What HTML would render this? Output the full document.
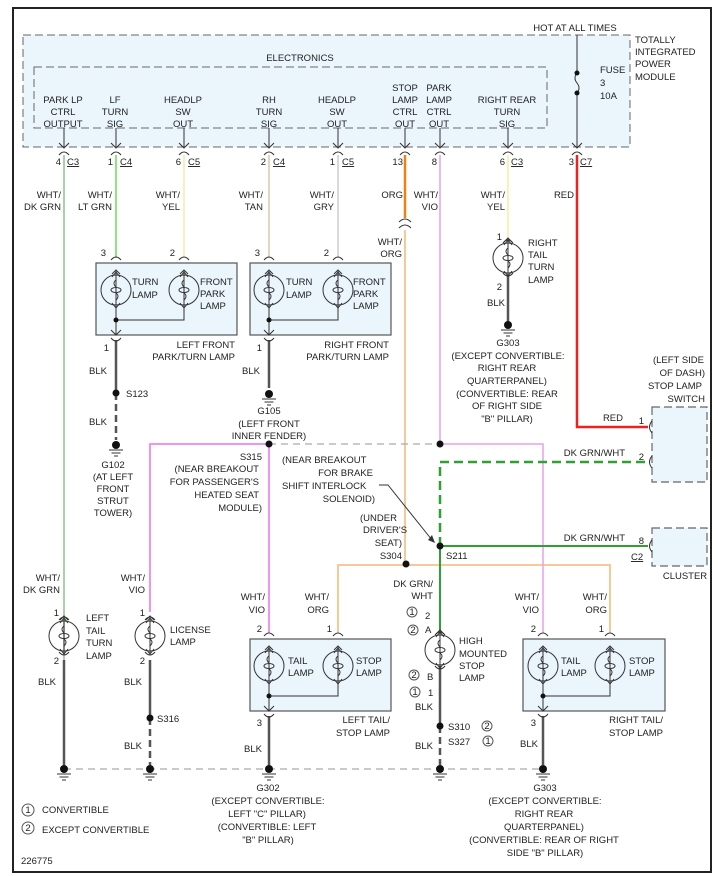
<!DOCTYPE html>
<html><head><meta charset="utf-8"><style>
html,body{margin:0;padding:0;background:#fff}
svg{display:block}
text{font-family:"Liberation Sans",sans-serif;font-size:9.5px;fill:#222}
.r{text-anchor:end}.m{text-anchor:middle}
</style></head><body>
<svg width="718" height="876" viewBox="0 0 718 876" xmlns="http://www.w3.org/2000/svg">
<defs>
<g id="bulb" fill="none" stroke="#333" stroke-width="1">
<circle r="15" fill="none"/>
<path d="M0,-19V19M-4,-13L0,-18L4,-13M-4,13L0,18L4,13M-4,-16L0,-20L4,-16"/>
<ellipse rx="5" ry="2.5"/>
<path d="M0,-10q-4,3 0,7M0,3q4,3 0,7"/>
</g>
<g id="gnd" stroke="#333" stroke-width="1"><circle r="4" fill="#111" stroke="none"/><path d="M-7,5H7M-4.5,8H4.5M-2,11H2"/></g>
<path id="cap" d="M-5,3Q0,-3 5,3" fill="none" stroke="#333" stroke-width="1"/>
<path id="dn" d="M-5,-4L0,1L5,-4" fill="none" stroke="#333" stroke-width="1"/>
</defs>
<rect x="13" y="8" width="698" height="864" fill="#fff" stroke="#222" stroke-width="2"/>
<!-- TIPM -->
<rect x="23" y="35" width="607" height="112" fill="#eaf5fc" stroke="#666" stroke-dasharray="8,4"/>
<rect x="34" y="67" width="513" height="61" fill="#eaf5fc" stroke="#666" stroke-dasharray="8,4"/>
<text x="575" y="31" class="m">HOT AT ALL TIMES</text>
<text x="635" y="43">TOTALLY</text><text x="635" y="55">INTEGRATED</text><text x="635" y="67">POWER</text><text x="635" y="80">MODULE</text>
<text x="300" y="61" class="m">ELECTRONICS</text>
<g class="m">
<text x="63" y="103" class="m">PARK LP</text><text x="63" y="115" class="m">CTRL</text><text x="63" y="127" class="m">OUTPUT</text>
<text x="115" y="103" class="m">LF</text><text x="115" y="115" class="m">TURN</text><text x="115" y="127" class="m">SIG</text>
<text x="183" y="103" class="m">HEADLP</text><text x="183" y="115" class="m">SW</text><text x="183" y="127" class="m">OUT</text>
<text x="269" y="103" class="m">RH</text><text x="269" y="115" class="m">TURN</text><text x="269" y="127" class="m">SIG</text>
<text x="337" y="103" class="m">HEADLP</text><text x="337" y="115" class="m">SW</text><text x="337" y="127" class="m">OUT</text>
<text x="405" y="91" class="m">STOP</text><text x="405" y="103" class="m">LAMP</text><text x="405" y="115" class="m">CTRL</text><text x="405" y="127" class="m">OUT</text>
<text x="439" y="91" class="m">PARK</text><text x="439" y="103" class="m">LAMP</text><text x="439" y="115" class="m">CTRL</text><text x="439" y="127" class="m">OUT</text>
<text x="507" y="103" class="m">RIGHT REAR</text><text x="507" y="115" class="m">TURN</text><text x="507" y="127" class="m">SIG</text>
</g>
<text x="600" y="73">FUSE</text><text x="600" y="86">3</text><text x="600" y="99">10A</text>
<g stroke="#333" stroke-width="1">
<path d="M64,128V147M116,128V147M184,128V147M269,128V147M338,128V147M405,128V147M440,128V147M508,128V147"/>
<path d="M577,35V73M577,93V147M577,73q-4,5 0,10q4,5 0,10" fill="none"/>
</g>
<circle cx="577" cy="73" r="2.5" fill="#111"/><circle cx="577" cy="93" r="2.5" fill="#111"/>
<use href="#dn" x="64" y="147"/><use href="#dn" x="116" y="147"/><use href="#dn" x="184" y="147"/><use href="#dn" x="269" y="147"/><use href="#dn" x="338" y="147"/><use href="#dn" x="405" y="147"/><use href="#dn" x="440" y="147"/><use href="#dn" x="508" y="147"/><use href="#dn" x="577" y="147"/>
<use href="#cap" x="64" y="152"/><use href="#cap" x="116" y="152"/><use href="#cap" x="184" y="152"/><use href="#cap" x="269" y="152"/><use href="#cap" x="338" y="152"/><use href="#cap" x="405" y="152"/><use href="#cap" x="440" y="152"/><use href="#cap" x="508" y="152"/><use href="#cap" x="577" y="152"/>
<!-- connector numbers -->
<text x="61" y="165" class="r">4</text><text x="67" y="165" text-decoration="underline">C3</text>
<text x="113" y="165" class="r">1</text><text x="120" y="165" text-decoration="underline">C4</text>
<text x="181" y="165" class="r">6</text><text x="188" y="165" text-decoration="underline">C5</text>
<text x="266" y="165" class="r">2</text><text x="273" y="165" text-decoration="underline">C4</text>
<text x="335" y="165" class="r">1</text><text x="342" y="165" text-decoration="underline">C5</text>
<text x="403" y="165" class="r">13</text><text x="437" y="165" class="r">8</text>
<text x="505" y="165" class="r">6</text><text x="511" y="165" text-decoration="underline">C3</text>
<text x="574" y="165" class="r">3</text><text x="580" y="165" text-decoration="underline">C7</text>
<!-- wire labels -->
<text x="61" y="198" class="r">WHT/</text><text x="61" y="210" class="r">DK GRN</text>
<text x="112" y="198" class="r">WHT/</text><text x="112" y="210" class="r">LT GRN</text>
<text x="180" y="198" class="r">WHT/</text><text x="180" y="210" class="r">YEL</text>
<text x="263" y="198" class="r">WHT/</text><text x="263" y="210" class="r">TAN</text>
<text x="334" y="198" class="r">WHT/</text><text x="334" y="210" class="r">GRY</text>
<text x="403" y="198" class="r">ORG</text>
<text x="438" y="198" class="r">WHT/</text><text x="438" y="210" class="r">VIO</text>
<text x="505" y="198" class="r">WHT/</text><text x="505" y="210" class="r">YEL</text>
<text x="574" y="198" class="r">RED</text>
<text x="402" y="245" class="r">WHT/</text><text x="402" y="257" class="r">ORG</text>
<!-- wires -->
<g fill="none" stroke-width="1.5">
<path d="M64,155V769" stroke="#8bc48b"/>
<path d="M116,155V258" stroke="#66dd55"/>
<path d="M184,155V258" stroke="#f0eab0"/>
<path d="M269,155V258" stroke="#d8c8a8"/>
<path d="M338,155V258" stroke="#cccccc"/>
<path d="M405,155V218" stroke="#f08010" stroke-width="2.5"/>
<path d="M405,230V565M338,633V565H610V633" stroke="#f8c898" stroke-width="2"/>
<path d="M440,155V444M150,612V444H269M269,633V444M440,444H543V633" stroke="#e8a0e8" stroke-width="1.5"/>
<path d="M150,612V444H269V633" stroke="#f080f0"/>
<path d="M508,155V240" stroke="#f0f0a0"/>
<path d="M577,155V427H648" stroke="#ee2020" stroke-width="2.5"/>
<path d="M440,546V633M440,546H648" stroke="#30a030" stroke-width="2"/>
<path d="M440,546V462H648" stroke="#30a030" stroke-width="2.5" stroke-dasharray="9,5"/>
<path d="M269,444H440" stroke="#aaa" stroke-width="1.2" stroke-dasharray="7,5"/>
<path d="M64,769H543" stroke="#aaa" stroke-width="1.2" stroke-dasharray="7,5"/>
</g>
<path d="M399,222q6,-6 12,0M399,228q6,-6 12,0" fill="none" stroke="#333"/>
<!-- BLK wires -->
<g stroke="#555" stroke-width="2.5" fill="none">
<path d="M116,340V393M269,340V388M508,275V322M64,660V765M150,660V718M269,716V765M440,666V726M543,716V765"/>
<path d="M116,393V440M150,718V765M440,726V765" stroke-dasharray="7,4"/>
</g>
<!-- front lamp boxes -->
<rect x="96" y="263" width="141" height="72" fill="#eaf5fc" stroke="#555" stroke-width="1.2"/>
<rect x="250" y="263" width="141" height="72" fill="#eaf5fc" stroke="#555" stroke-width="1.2"/>
<use href="#bulb" x="116" y="290"/><use href="#bulb" x="184" y="290"/><use href="#bulb" x="269" y="290"/><use href="#bulb" x="338" y="290"/>
<g stroke="#333" fill="none"><path d="M116,309V335M116,320H184V309M269,309V335M269,320H338V309"/></g>
<circle cx="116" cy="320" r="2.5" fill="#111"/><circle cx="269" cy="320" r="2.5" fill="#111"/>
<use href="#dn" x="116" y="334"/><use href="#dn" x="269" y="334"/>
<use href="#cap" x="116" y="257"/><use href="#cap" x="184" y="257"/><use href="#cap" x="269" y="257"/><use href="#cap" x="338" y="257"/>
<use href="#cap" x="116" y="341" transform="rotate(180 116 341)"/><use href="#cap" x="269" y="341" transform="rotate(180 269 341)"/>
<text x="106" y="256" class="r">3</text><text x="175" y="256" class="r">2</text><text x="260" y="256" class="r">3</text><text x="329" y="256" class="r">2</text>
<text x="132" y="285">TURN</text><text x="132" y="298">LAMP</text>
<text x="200" y="285">FRONT</text><text x="200" y="297">PARK</text><text x="200" y="309">LAMP</text>
<text x="286" y="285">TURN</text><text x="286" y="298">LAMP</text>
<text x="353" y="285">FRONT</text><text x="353" y="297">PARK</text><text x="353" y="309">LAMP</text>
<text x="235" y="348" class="r">LEFT FRONT</text><text x="235" y="360" class="r">PARK/TURN LAMP</text>
<text x="389" y="348" class="r">RIGHT FRONT</text><text x="389" y="360" class="r">PARK/TURN LAMP</text>
<text x="109" y="351" class="r">1</text><text x="262" y="351" class="r">1</text>
<text x="107" y="374" class="r">BLK</text><text x="260" y="374" class="r">BLK</text>
<circle cx="116" cy="393" r="3.5" fill="#111"/><text x="126" y="397">S123</text>
<text x="107" y="425" class="r">BLK</text>
<use href="#gnd" x="116" y="445"/><use href="#gnd" x="269" y="394"/>
<text x="113" y="468" class="m">G102</text><text x="113" y="480" class="m">(AT LEFT</text><text x="113" y="492" class="m">FRONT</text><text x="113" y="504" class="m">STRUT</text><text x="113" y="516" class="m">TOWER)</text>
<text x="269" y="414" class="m">G105</text><text x="269" y="427" class="m">(LEFT FRONT</text><text x="269" y="439" class="m">INNER FENDER)</text>
<!-- right tail turn -->
<use href="#bulb" x="508" y="258"/><use href="#cap" x="508" y="240"/><use href="#cap" x="508" y="276" transform="rotate(180 508 276)"/>
<text x="502" y="240" class="r">1</text><text x="502" y="290" class="r">2</text>
<text x="528" y="246">RIGHT</text><text x="528" y="258">TAIL</text><text x="528" y="270">TURN</text><text x="528" y="283">LAMP</text>
<text x="505" y="306" class="r">BLK</text><use href="#gnd" x="508" y="325"/>
<text x="508" y="346" class="m">G303</text><text x="508" y="359" class="m">(EXCEPT CONVERTIBLE:</text><text x="507" y="371" class="m">RIGHT REAR</text><text x="507" y="384" class="m">QUARTERPANEL)</text><text x="507" y="397" class="m">(CONVERTIBLE: REAR</text><text x="507" y="409" class="m">OF RIGHT SIDE</text><text x="507" y="422" class="m">"B" PILLAR)</text>
<!-- switch/cluster -->
<text x="704" y="363" class="r">(LEFT SIDE</text><text x="705" y="376" class="r">OF DASH)</text><text x="702" y="389" class="r">STOP LAMP</text><text x="705" y="402" class="r">SWITCH</text>
<rect x="652" y="407" width="55" height="75" fill="#eaf5fc" stroke="#666" stroke-width="1.2" stroke-dasharray="8,4"/>
<rect x="652" y="528" width="55" height="38" fill="#eaf5fc" stroke="#666" stroke-width="1.2" stroke-dasharray="8,4"/>
<path d="M652,421q-5,6 0,12M652,456q-5,6 0,12M652,540q-5,6 0,12" fill="none" stroke="#333"/>
<text x="623" y="421" class="r">RED</text><text x="644" y="424" class="r">1</text>
<text x="625" y="456" class="r">DK GRN/WHT</text><text x="644" y="460" class="r">2</text>
<text x="625" y="541" class="r">DK GRN/WHT</text><text x="644" y="544" class="r">8</text>
<text x="631" y="560" text-decoration="underline">C2</text><text x="685" y="579" class="m">CLUSTER</text>
<!-- splices -->
<circle cx="269" cy="444" r="3.5" fill="#111"/><circle cx="440" cy="444" r="3.5" fill="#111"/><circle cx="440" cy="546" r="3.5" fill="#111"/><circle cx="406" cy="564" r="3.5" fill="#111"/>
<text x="262" y="460" class="r">S315</text><text x="259" y="472" class="r">(NEAR BREAKOUT</text><text x="259" y="485" class="r">FOR PASSENGER'S</text><text x="259" y="498" class="r">HEATED SEAT</text><text x="262" y="511" class="r">MODULE)</text>
<text x="282" y="463">(NEAR BREAKOUT</text><text x="373" y="476" class="r">FOR BRAKE</text><text x="282" y="489">SHIFT INTERLOCK</text><text x="375" y="502" class="r">SOLENOID)</text>
<path d="M379,485H388L432,540" fill="none" stroke="#333"/><path d="M428,540L435,543L432,535Z" fill="#333"/>
<text x="360" y="521">(UNDER</text><text x="363" y="533">DRIVER'S</text><text x="402" y="546" class="r">SEAT)</text><text x="402" y="559" class="r">S304</text>
<text x="446" y="559">S211</text>
<!-- rear -->
<use href="#bulb" x="64" y="636"/><use href="#bulb" x="150" y="636"/><use href="#bulb" x="440" y="650"/>
<use href="#cap" x="64" y="617"/><use href="#cap" x="150" y="617"/><use href="#cap" x="440" y="632"/>
<use href="#cap" x="64" y="655" transform="rotate(180 64 655)"/><use href="#cap" x="150" y="655" transform="rotate(180 150 655)"/><use href="#cap" x="440" y="669" transform="rotate(180 440 669)"/>
<text x="60" y="581" class="r">WHT/</text><text x="60" y="593" class="r">DK GRN</text>
<text x="145" y="581" class="r">WHT/</text><text x="145" y="593" class="r">VIO</text>
<text x="59" y="616" class="r">1</text><text x="59" y="664" class="r">2</text><text x="145" y="616" class="r">1</text><text x="145" y="664" class="r">2</text>
<text x="86" y="621">LEFT</text><text x="86" y="634">TAIL</text><text x="86" y="646">TURN</text><text x="86" y="659">LAMP</text>
<text x="170" y="633">LICENSE</text><text x="170" y="645">LAMP</text>
<text x="56" y="685" class="r">BLK</text><text x="142" y="685" class="r">BLK</text>
<circle cx="150" cy="718" r="3.5" fill="#111"/><text x="157" y="722">S316</text><text x="142" y="749" class="r">BLK</text>
<!-- left tail/stop -->
<rect x="250" y="639" width="141" height="72" fill="#eaf5fc" stroke="#555" stroke-width="1.2"/>
<rect x="523" y="639" width="142" height="72" fill="#eaf5fc" stroke="#555" stroke-width="1.2"/>
<use href="#bulb" x="269" y="666"/><use href="#bulb" x="338" y="666"/><use href="#bulb" x="543" y="666"/><use href="#bulb" x="610" y="666"/>
<g stroke="#333" fill="none"><path d="M269,685V711M269,696H338V685M543,685V711M543,696H610V685"/></g>
<circle cx="269" cy="696" r="2.5" fill="#111"/><circle cx="543" cy="696" r="2.5" fill="#111"/>
<use href="#dn" x="269" y="710"/><use href="#dn" x="543" y="710"/>
<use href="#cap" x="269" y="633"/><use href="#cap" x="338" y="633"/><use href="#cap" x="543" y="633"/><use href="#cap" x="610" y="633"/>
<use href="#cap" x="269" y="717" transform="rotate(180 269 717)"/><use href="#cap" x="543" y="717" transform="rotate(180 543 717)"/>
<text x="262" y="632" class="r">2</text><text x="332" y="632" class="r">1</text><text x="536" y="632" class="r">2</text><text x="604" y="632" class="r">1</text>
<text x="265" y="600" class="r">WHT/</text><text x="265" y="613" class="r">VIO</text><text x="329" y="600" class="r">WHT/</text><text x="329" y="613" class="r">ORG</text>
<text x="539" y="600" class="r">WHT/</text><text x="539" y="613" class="r">VIO</text><text x="607" y="600" class="r">WHT/</text><text x="607" y="613" class="r">ORG</text>
<text x="288" y="664">TAIL</text><text x="288" y="676">LAMP</text><text x="356" y="664">STOP</text><text x="356" y="676">LAMP</text>
<text x="561" y="664">TAIL</text><text x="561" y="676">LAMP</text><text x="629" y="664">STOP</text><text x="629" y="676">LAMP</text>
<text x="262" y="726" class="r">3</text><text x="536" y="726" class="r">3</text>
<text x="390" y="723" class="r">LEFT TAIL/</text><text x="390" y="736" class="r">STOP LAMP</text>
<text x="663" y="723" class="r">RIGHT TAIL/</text><text x="663" y="736" class="r">STOP LAMP</text>
<text x="262" y="752" class="r">BLK</text><text x="538" y="747" class="r">BLK</text>
<!-- HMSL -->
<text x="433" y="587" class="r">DK GRN/</text><text x="433" y="599" class="r">WHT</text>
<text x="459" y="644">HIGH</text><text x="459" y="657">MOUNTED</text><text x="459" y="669">STOP</text><text x="459" y="681">LAMP</text>
<g fill="none" stroke="#555"><circle cx="412" cy="612" r="5"/><circle cx="413" cy="630" r="5"/><circle cx="414" cy="675" r="5"/><circle cx="415" cy="692" r="5"/><circle cx="487" cy="726" r="5"/><circle cx="488" cy="741" r="5"/><circle cx="28" cy="810" r="6"/><circle cx="28" cy="828" r="6"/></g>
<g style="font-size:8px"><text x="412" y="615" class="m">1</text><text x="413" y="633" class="m">2</text><text x="414" y="678" class="m">2</text><text x="415" y="695" class="m">1</text><text x="487" y="729" class="m">2</text><text x="488" y="744" class="m">1</text><text x="28" y="813" class="m">1</text><text x="28" y="831" class="m">2</text></g>
<text x="425" y="619">2</text><text x="425" y="633">A</text><text x="427" y="680">B</text><text x="428" y="696">1</text>
<text x="433" y="710" class="r">BLK</text>
<circle cx="440" cy="726" r="3.5" fill="#111"/><text x="448" y="730">S310</text><text x="448" y="745">S327</text><text x="433" y="749" class="r">BLK</text>
<!-- grounds -->
<use href="#gnd" x="64" y="769"/><use href="#gnd" x="150" y="769"/><use href="#gnd" x="269" y="769"/><use href="#gnd" x="440" y="769"/><use href="#gnd" x="543" y="769"/>
<text x="268" y="791" class="m">G302</text><text x="268" y="804" class="m">(EXCEPT CONVERTIBLE:</text><text x="267" y="817" class="m">LEFT "C" PILLAR)</text><text x="267" y="830" class="m">(CONVERTIBLE: LEFT</text><text x="268" y="843" class="m">"B" PILLAR)</text>
<text x="545" y="791" class="m">G303</text><text x="545" y="804" class="m">(EXCEPT CONVERTIBLE:</text><text x="544" y="817" class="m">RIGHT REAR</text><text x="544" y="830" class="m">QUARTERPANEL)</text><text x="544" y="843" class="m">(CONVERTIBLE: REAR OF RIGHT</text><text x="545" y="856" class="m">SIDE "B" PILLAR)</text>
<text x="42" y="813">CONVERTIBLE</text><text x="42" y="833">EXCEPT CONVERTIBLE</text>
<text x="21" y="864">226775</text>
</svg>
</body></html>
